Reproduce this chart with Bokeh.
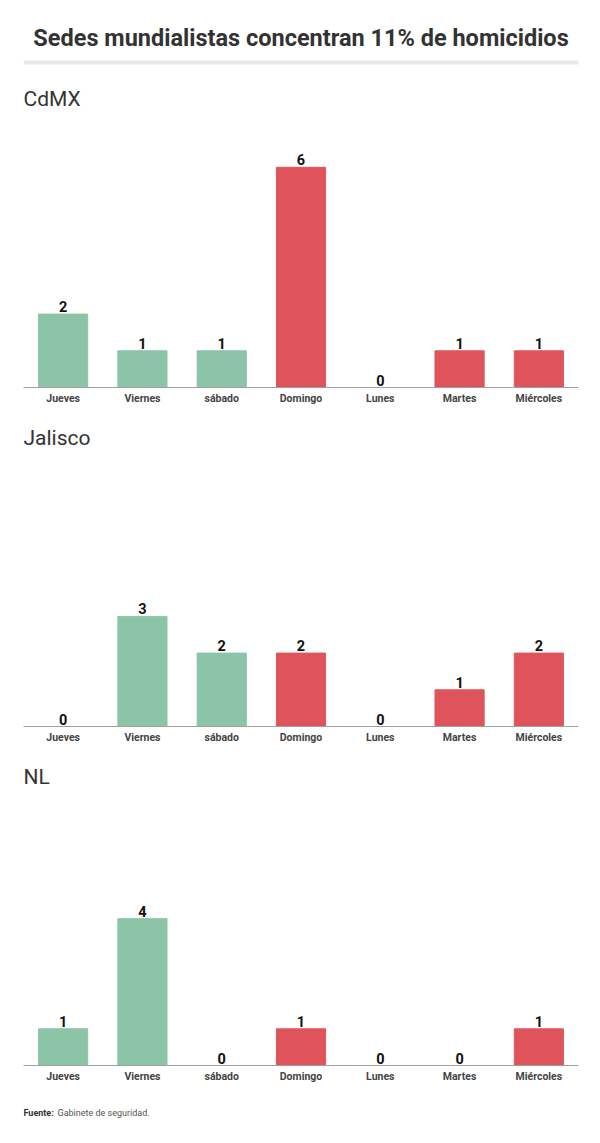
from bokeh.plotting import figure
from bokeh.models import FactorRange, Range1d, ColumnDataSource, Span, Label
from bokeh.layouts import column
from bokeh.embed import file_html
from bokeh.resources import INLINE
from bokeh.core.properties import value

# ---- data ----
main_title = "Sedes mundialistas concentran 11% de homicidios"
days = ["Jueves", "Viernes", "sábado", "Domingo", "Lunes", "Martes", "Miércoles"]
day_colors = ["#8cc4a8", "#8cc4a8", "#8cc4a8", "#df545a", "#df545a", "#df545a", "#df545a"]
panel_names = ["CdMX", "Jalisco", "NL"]
cdmx = [2, 1, 1, 6, 0, 1, 1]
jalisco = [0, 3, 2, 2, 0, 1, 2]
nl = [1, 4, 0, 1, 0, 0, 1]
source_label = "Fuente:"
source_text = "Gabinete de seguridad."

# ---- layout constants (pixels) ----
W = 600
BL, BR = 23, 22
FONT = "Roboto"
PX = 36.7          # pixels per homicide
FRAME_H = 312      # plot frame height of each panel
BOTTOM = 27        # room for day labels
NAME_RISE = 289    # baseline of panel name above the axis line

# ---- header ----
HEADER_H = 75
header = figure(width=W, height=HEADER_H, x_range=Range1d(0, 1), y_range=Range1d(0, HEADER_H),
                output_backend="svg", toolbar_location=None,
                min_border_left=BL, min_border_right=BR, min_border_top=0, min_border_bottom=0)
header.title = None
header.axis.visible = False
header.grid.visible = False
header.outline_line_color = None
header.add_layout(Label(x=0.5, y=HEADER_H - 37, text=main_title, text_align="center",
                        text_baseline="alphabetic", text_font=FONT, text_font_size="23.5px",
                        text_font_style="bold", text_color="#333333"))
header.add_layout(Span(location=HEADER_H - 62, dimension="width", line_color="#e8e8e8", line_width=4))

panels = [header]
for name, vals in zip(panel_names, [cdmx, jalisco, nl]):
    src = ColumnDataSource(dict(day=days, v=vals, color=day_colors, lab=[str(v) for v in vals]))
    p = figure(width=W, height=FRAME_H + BOTTOM, x_range=FactorRange(*days),
               y_range=Range1d(0, FRAME_H / PX),
               output_backend="svg", toolbar_location=None,
               min_border_left=BL, min_border_right=BR, min_border_top=0, min_border_bottom=BOTTOM)
    p.title = None
    p.vbar(x="day", top="v", width=0.62, color="color", source=src)
    p.text(x="day", y="v", text="lab", source=src, text_align="center", text_baseline="bottom",
           y_offset=-2, text_font=value(FONT), text_font_size="14.5px", text_font_style="bold",
           text_color="#111111")
    p.add_layout(Label(x=0, x_units="screen", y=NAME_RISE / PX, text=name, text_align="left",
                       text_baseline="alphabetic", text_font=FONT, text_font_size="21px",
                       text_font_style="normal", text_color="#333333"))
    p.yaxis.visible = False
    p.grid.visible = False
    p.outline_line_color = None
    p.xaxis.axis_line_color = "#a0a0a0"
    p.xaxis.major_tick_line_color = None
    p.xaxis.minor_tick_line_color = None
    p.xaxis.major_tick_out = 0
    p.xaxis.major_tick_in = 0
    p.xaxis.major_label_text_font = FONT
    p.xaxis.major_label_text_font_size = "10.5px"
    p.xaxis.major_label_text_font_style = "bold"
    p.xaxis.major_label_text_color = "#444444"
    p.xaxis.major_label_standoff = 4
    panels.append(p)

footer = figure(width=W, height=43, x_range=Range1d(0, 1), y_range=Range1d(0, 1),
                output_backend="svg", toolbar_location=None,
                min_border_left=BL, min_border_right=BR, min_border_top=0, min_border_bottom=0)
footer.title = None
footer.axis.visible = False
footer.grid.visible = False
footer.outline_line_color = None
footer.add_layout(Label(x=0, y=23, x_units="screen", y_units="screen", text=source_label,
                        text_font=FONT, text_font_size="9px", text_font_style="bold",
                        text_color="#333333", text_baseline="middle"))
footer.add_layout(Label(x=34, y=23, x_units="screen", y_units="screen", text=source_text,
                        text_font=FONT, text_font_size="9px", text_font_style="normal",
                        text_color="#555555", text_baseline="middle"))
panels.append(footer)

layout = column(*panels, spacing=0)
open("out.html", "w").write(file_html(layout, INLINE))
